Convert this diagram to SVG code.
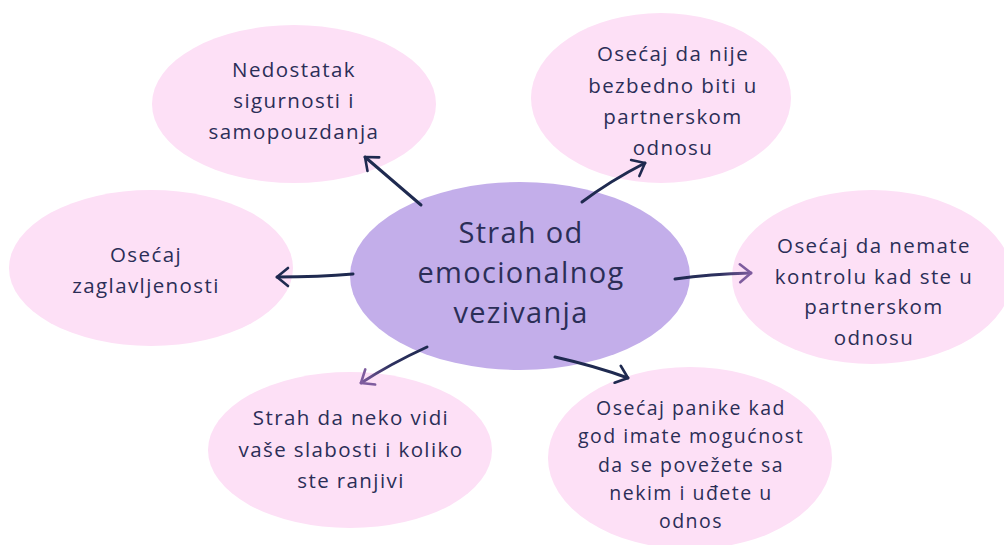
<svg xmlns="http://www.w3.org/2000/svg" width="1004" height="545" viewBox="0 0 1004 545">
<defs>
<style>
.pink{fill:#fde0f6}
.center{fill:#c3aeea}
.t{font-family:"Open Sans","Noto Sans","DejaVu Sans",sans-serif;fill:#2b2e57;text-anchor:middle;font-size:20.5px;letter-spacing:1.4px}
.t6{font-size:19.5px;letter-spacing:1.5px}
.tc{font-size:29px;letter-spacing:1.3px}
.c{fill:none;stroke-width:3;stroke-linecap:round}
</style>
<marker id="hNavy" viewBox="-15 -15 30 30" markerWidth="30" markerHeight="30" refX="0" refY="0" orient="auto" markerUnits="userSpaceOnUse" overflow="visible">
<path d="M-11,-9 L0,0 L-11,9" fill="none" stroke="#1f2a50" stroke-width="2.6" stroke-linecap="round" stroke-linejoin="round"/>
</marker>
<marker id="hPurple" viewBox="-15 -15 30 30" markerWidth="30" markerHeight="30" refX="0" refY="0" orient="auto" markerUnits="userSpaceOnUse" overflow="visible">
<path d="M-11,-9 L0,0 L-11,9" fill="none" stroke="#7e5c9e" stroke-width="2.6" stroke-linecap="round" stroke-linejoin="round"/>
</marker>
<linearGradient id="g4" gradientUnits="userSpaceOnUse" x1="675" y1="279" x2="751" y2="273">
<stop offset="0" stop-color="#1f2a50"/><stop offset="0.6" stop-color="#2e3160"/><stop offset="1" stop-color="#7e5c9e"/>
</linearGradient>
<linearGradient id="g6" gradientUnits="userSpaceOnUse" x1="427" y1="347" x2="361" y2="383">
<stop offset="0" stop-color="#1f2a50"/><stop offset="0.55" stop-color="#2e3160"/><stop offset="1" stop-color="#7e5c9e"/>
</linearGradient>
</defs>
<rect width="1004" height="545" fill="#ffffff"/>

<g id="node-nedostatak">
<ellipse class="pink" cx="294" cy="104" rx="142" ry="79"/>
<text class="t"><tspan x="294" y="77">Nedostatak</tspan><tspan x="294" y="108">sigurnosti i</tspan><tspan x="294" y="139">samopouzdanja</tspan></text>
</g>
<g id="node-bezbedno">
<ellipse class="pink" cx="661" cy="98" rx="130" ry="85"/>
<text class="t"><tspan x="673" y="61">Osećaj da nije</tspan><tspan x="673" y="93">bezbedno biti u</tspan><tspan x="673" y="124">partnerskom</tspan><tspan x="673" y="155">odnosu</tspan></text>
</g>
<g id="node-zaglavljenost">
<ellipse class="pink" cx="151" cy="268" rx="142" ry="78"/>
<text class="t"><tspan x="146" y="262">Osećaj</tspan><tspan x="146" y="293">zaglavljenosti</tspan></text>
</g>
<g id="node-kontrola">
<ellipse class="pink" cx="872" cy="277" rx="140" ry="87"/>
<text class="t"><tspan x="874" y="253">Osećaj da nemate</tspan><tspan x="874" y="284">kontrolu kad ste u</tspan><tspan x="874" y="314">partnerskom</tspan><tspan x="874" y="345">odnosu</tspan></text>
</g>
<g id="node-slabosti">
<ellipse class="pink" cx="350" cy="450" rx="142" ry="78"/>
<text class="t"><tspan x="351" y="425">Strah da neko vidi</tspan><tspan x="351" y="457">vaše slabosti i koliko</tspan><tspan x="351" y="488">ste ranjivi</tspan></text>
</g>
<g id="node-panika">
<ellipse class="pink" cx="690" cy="458" rx="142" ry="91"/>
<text class="t t6"><tspan x="691" y="415">Osećaj panike kad</tspan><tspan x="691" y="443">god imate mogućnost</tspan><tspan x="691" y="472">da se povežete sa</tspan><tspan x="691" y="500">nekim i uđete u</tspan><tspan x="691" y="528">odnos</tspan></text>
</g>
<g id="node-center">
<ellipse class="center" cx="520" cy="276" rx="170" ry="94"/>
<text class="t tc"><tspan x="521" y="243">Strah od</tspan><tspan x="521" y="283">emocionalnog</tspan><tspan x="521" y="323">vezivanja</tspan></text>
</g>

<g id="connectors">
<path class="c" d="M421,205 L365,157" stroke="#1f2a50" marker-end="url(#hNavy)"/>
<path class="c" d="M582,202 Q610,181 645,163" stroke="#1f2a50" marker-end="url(#hNavy)"/>
<path class="c" d="M353,274 Q320,277 277,277" stroke="#1f2a50" marker-end="url(#hNavy)"/>
<path class="c" d="M675,279 Q710,274 751,273" stroke="url(#g4)" marker-end="url(#hPurple)"/>
<path class="c" d="M555,357 Q595,366 628,378" stroke="#1f2a50" marker-end="url(#hNavy)"/>
<path class="c" d="M427,347 Q390,364 361,383" stroke="url(#g6)" marker-end="url(#hPurple)"/>
</g>
</svg>
